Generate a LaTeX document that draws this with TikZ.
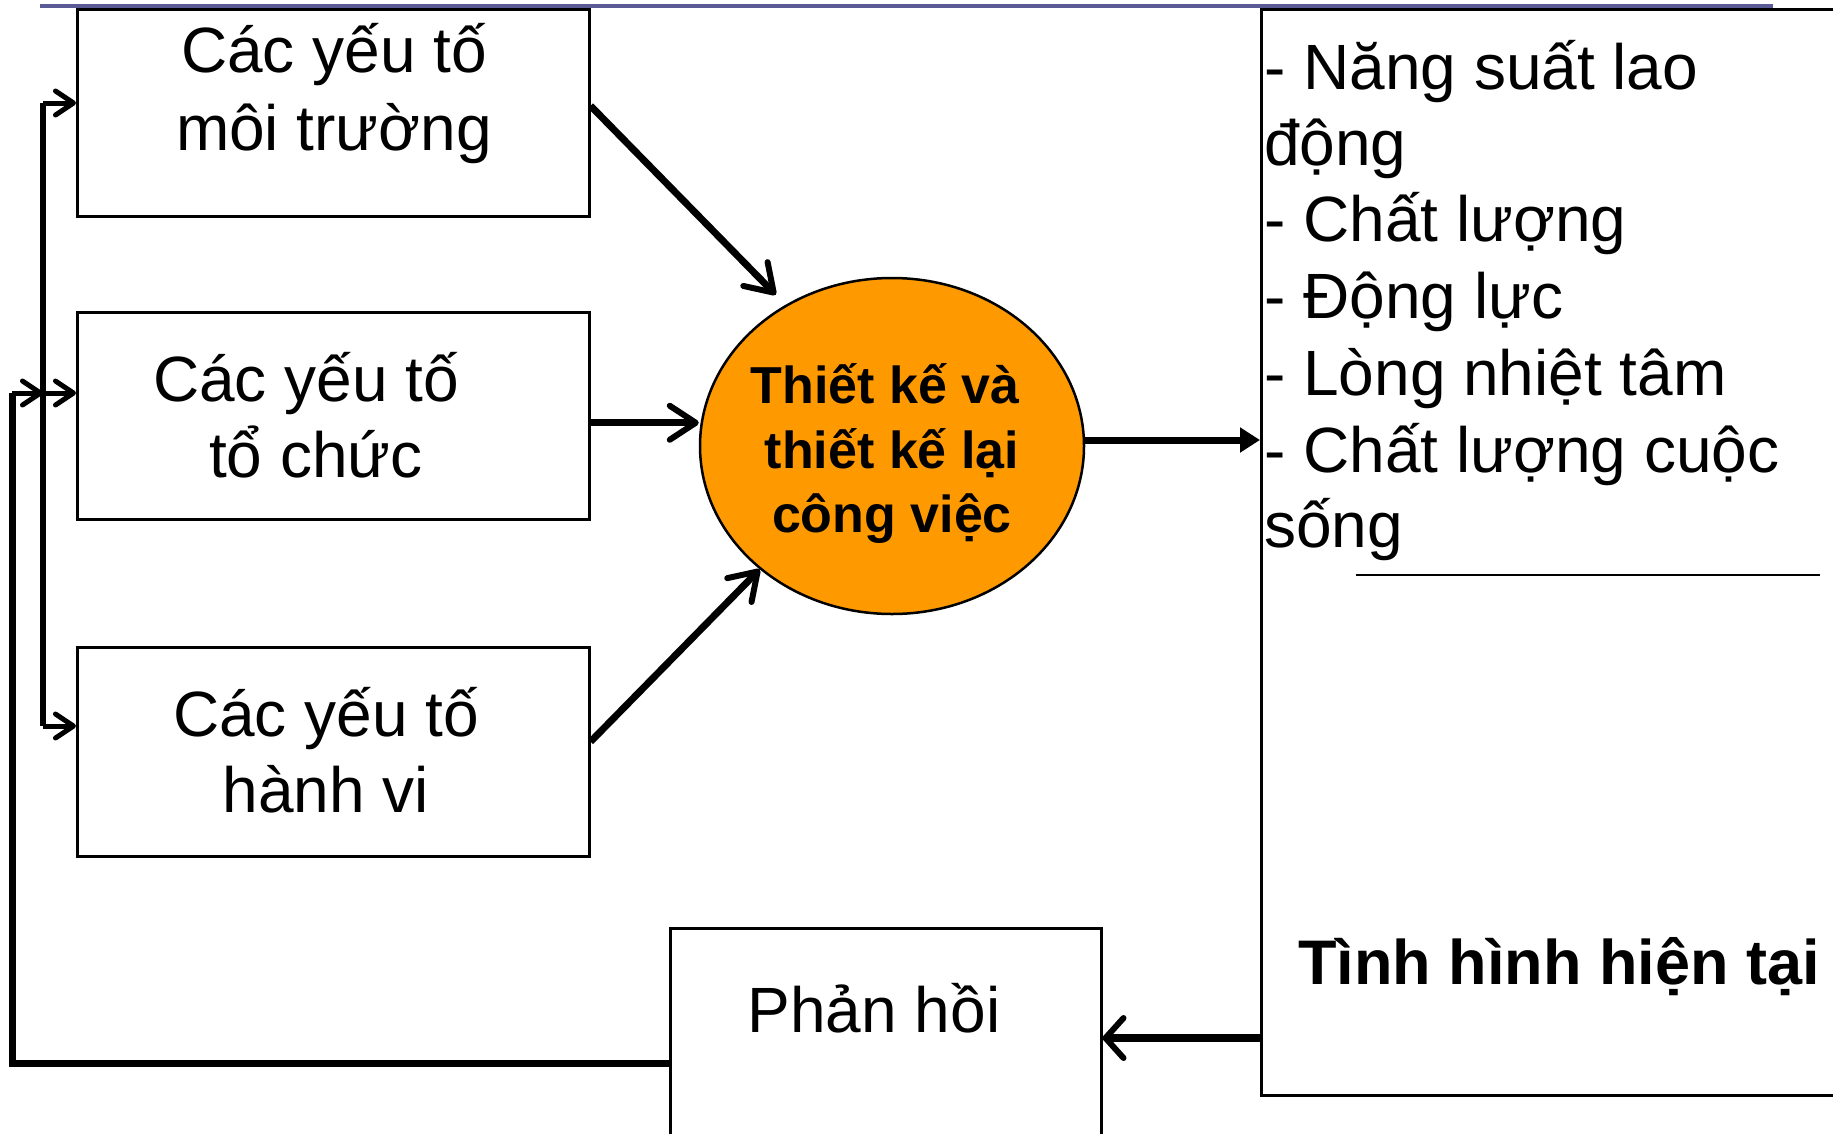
\documentclass[tikz,border=0pt]{standalone}
\usepackage{fontspec}
\setmainfont{Liberation Sans}
\usetikzlibrary{arrows.meta,shapes.geometric}
\definecolor{topline}{RGB}{90,90,150}
\definecolor{orangefill}{RGB}{255,153,0}
\begin{document}
\begin{tikzpicture}[x=1pt,y=-1pt,
  box/.style={draw, line width=2.5pt, inner sep=0pt, anchor=north west},
  txt/.style={inner sep=0pt, anchor=base, font=\fontsize{64}{77}\selectfont},
  ltxt/.style={inner sep=0pt, anchor=base west, font=\fontsize{64}{77}\selectfont},
  etxt/.style={inner sep=0pt, anchor=base, font=\fontsize{52}{64}\selectfont\bfseries},
  barb/.style={line width=7pt, -{Straight Barb[length=26pt,width=34pt,line width=6pt,round]}},
  sbarb/.style={line width=5pt, -{Straight Barb[length=18pt,width=24pt,line width=5pt,round]}},
  fbarb/.style={line width=8pt, -{Straight Barb[length=18pt,width=40pt,line width=6pt,round]}},
  tri/.style={line width=7pt, -{Triangle[length=20pt,width=24pt]}},
]
\useasboundingbox (0,0) rectangle (1833,1133);

% boxes
\node[box, minimum width=512pt, minimum height=207pt] (b1) at (76,8) {};
\node[box, minimum width=512pt, minimum height=207pt] (b2) at (76,311) {};
\node[box, minimum width=512pt, minimum height=209pt] (b3) at (76,646) {};
\node[box, minimum width=620pt, minimum height=1086pt] (rb) at (1260,8) {};
\node[box, minimum width=431pt, minimum height=270pt] (fb) at (669,927) {};
\node[draw, line width=2.5pt, fill=orangefill, ellipse, inner sep=0pt,
      minimum width=384pt, minimum height=336pt] (el) at (892,446) {};

% top rule
\draw[topline, line width=4pt] (40,6) -- (1773,6);

% box texts
\node[txt] (t1a) at (334,72) {Các yếu tố};
\node[txt] (t1b) at (334,150) {môi trường};
\node[txt] (t2a) at (306,401) {Các yếu tố};
\node[txt] (t2b) at (316,477) {tổ chức};
\node[txt] (t3a) at (326,736) {Các yếu tố};
\node[txt] (t3b) at (326,812) {hành vi};
\node[txt] (tfb) at (874,1032) {Phản hồi};

% ellipse text
\node[etxt] (e1) at (885,403) {Thiết kế và};
\node[etxt] (e2) at (892,468) {thiết kế lại};
\node[etxt] (e3) at (892,532) {công việc};

% right list
\node[ltxt] (r1) at (1264,89) {- Năng suất lao};
\node[ltxt] (r2) at (1264,165) {động};
\node[ltxt] (r3) at (1264,241) {- Chất lượng};
\node[ltxt] (r4) at (1264,318) {- Động lực};
\node[ltxt] (r5) at (1264,395) {- Lòng nhiệt tâm};
\node[ltxt] (r6) at (1264,472) {- Chất lượng cuộc};
\node[ltxt] (r7) at (1264,547) {sống};
\coordinate (ulA) at (1356,575);
\coordinate (ulB) at (1820,575);
\draw[line width=2.5pt] (ulA) -- (ulB);
\node[inner sep=0pt, anchor=base west, font=\fontsize{63}{77}\selectfont\bfseries] (cur) at (1298,984) {Tình hình hiện tại};

% arrows into ellipse
\draw[barb, shorten >=14pt] ([yshift=7pt]b1.east) -- (el.127);
\draw[barb] ([yshift=-7pt]b2.east) -- ([yshift=-7pt]b2.east -| el.west);
\draw[barb] ([yshift=10pt]b3.east) -- (el.223);
\draw[tri] ([yshift=6pt]el.east) -- ([yshift=6pt]el.east -| rb.west);

% feedback
\draw[fbarb] (rb.west |- 0,1038) -- (fb.east |- 0,1038);
\coordinate (fl) at (12,393);
\coordinate (j2) at (43,393);
\draw[line width=7pt] (fb.west) -| (fl);
\draw[sbarb] (fl) -- (j2);

% bus
\coordinate (j1) at (43,103);
\coordinate (j3) at (43,726);
\draw[line width=6.5pt] (j1) -- (j3);
\draw[sbarb] (j1) -- (j1 -| b1.west);
\draw[sbarb] (j2) -- (j2 -| b2.west);
\draw[sbarb] (j3) -- (j3 -| b3.west);
\end{tikzpicture}
\end{document}
